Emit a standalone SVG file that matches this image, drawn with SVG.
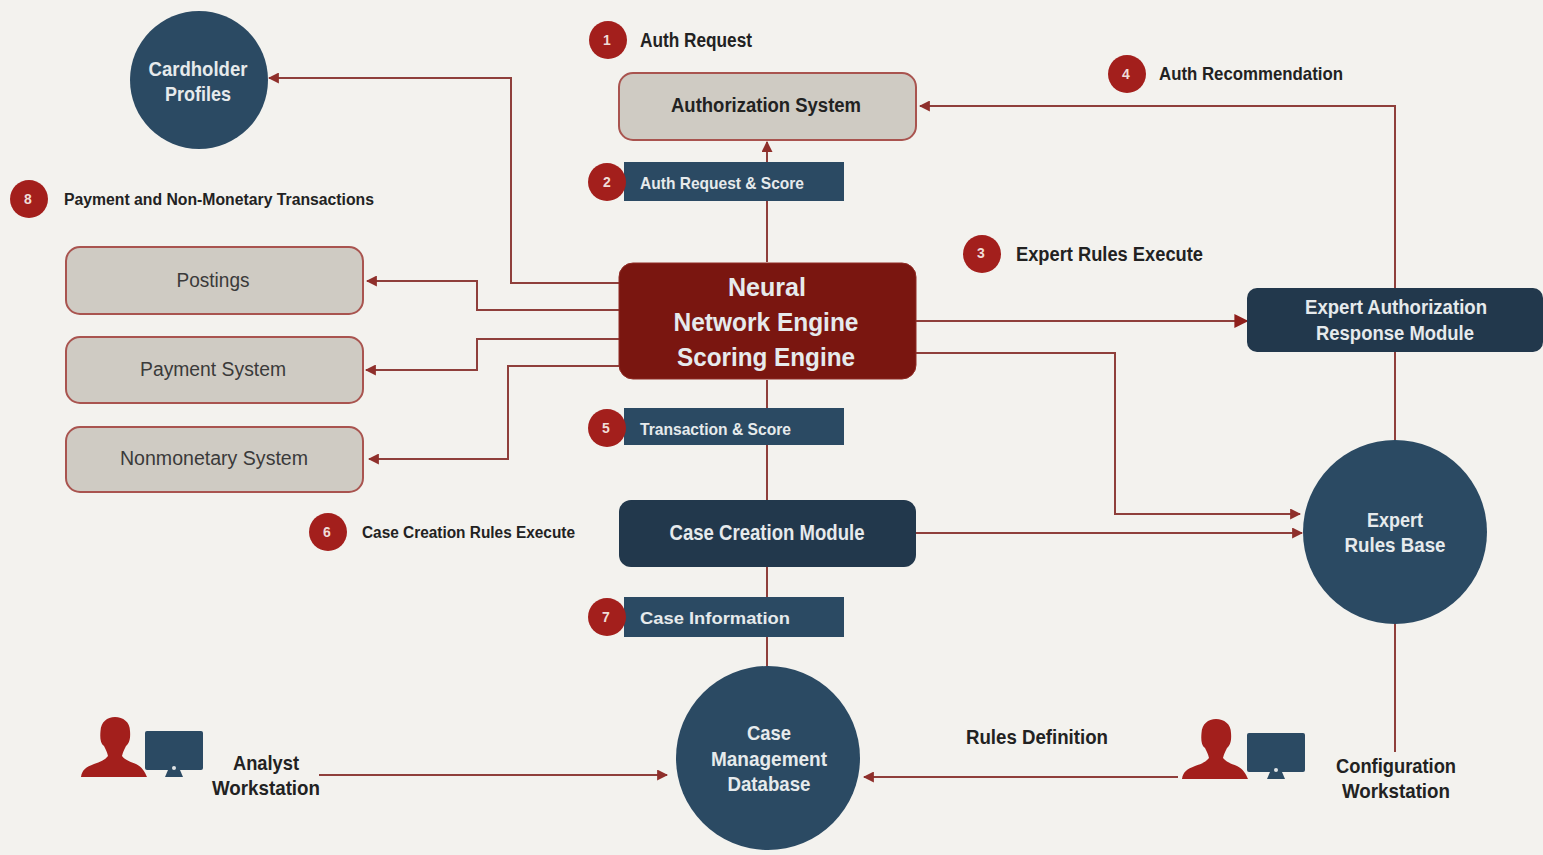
<svg xmlns="http://www.w3.org/2000/svg" width="1543" height="855" viewBox="0 0 1543 855">
<style>
text{font-family:"Liberation Sans",Arial,sans-serif;text-anchor:middle;font-weight:700}
.d{fill:#222}.w{fill:#e6eaec}.s{text-anchor:start}
.n{font-weight:400;fill:#3a3a3a;font-size:20px}
.box{fill:#cfcbc3;stroke:#a9544f;stroke-width:2}
.navy{fill:#2b4a63}.dark{fill:#22384c}.red{fill:#a31f1c}
.c{fill:none;stroke:#8f3f3b;stroke-width:2}
.num{fill:#f0dcd8;font-size:14px}
</style>
<defs>
<marker id="a" viewBox="0 0 10 10" refX="9" refY="5" markerWidth="5.5" markerHeight="5.5" orient="auto-start-reverse"><path d="M0 0L10 5L0 10Z" fill="#8f2f2b"/></marker>
<marker id="b" viewBox="0 0 10 10" refX="9" refY="5" markerWidth="7" markerHeight="7" orient="auto"><path d="M0 0L10 5L0 10Z" fill="#8f1f1b"/></marker>
<g id="person"><path d="M0 58C1 51 5 48 13 45C19 43 24 41 27 37C26 33 25 31 23 27C19 24 19 18 19.500 12C20 3 26 -2 34 -2C42 -2 49 3 49 12C49.500 18 49 24 45 27C43 31 42 33 41 37C44 41 50 43 55 45C61 48 64 53 66 58Z" class="red"/></g>
<g id="monitor"><rect x="0" y="0" width="58" height="39" rx="2" class="navy"/><path d="M23 39H35L38 46H20Z" class="navy"/><circle cx="29" cy="37" r="2" fill="#dfe3e5"/></g>
</defs>
<rect width="1543" height="855" fill="#f3f2ee"/>
<g id="connectors">
<path class="c" marker-end="url(#a)" d="M767 262V142"/>
<path class="c" marker-end="url(#a)" d="M619 283H511V78H269"/>
<path class="c" marker-end="url(#a)" d="M619 310H477V281H367"/>
<path class="c" marker-end="url(#a)" d="M619 339H477V370H366"/>
<path class="c" marker-end="url(#a)" d="M619 366H508V459H369"/>
<path class="c" marker-end="url(#b)" d="M916 321H1247"/>
<path class="c" marker-end="url(#a)" d="M916 353H1115V514H1300"/>
<path class="c" marker-end="url(#a)" d="M916 533H1302"/>
<path class="c" d="M767 380V667"/>
<path class="c" marker-end="url(#a)" d="M1395 288V106H920"/>
<path class="c" d="M1395 352V441"/>
<path class="c" d="M1395 624V752"/>
<path class="c" marker-end="url(#a)" d="M319 775H667"/>
<path class="c" marker-end="url(#a)" d="M1178 777H864"/>
</g>
<g id="cardholder"><circle cx="199" cy="80" r="69" class="navy"/><text class="w" font-size="21" x="198" y="75.500" textLength="99" lengthAdjust="spacingAndGlyphs">Cardholder</text><text class="w" font-size="21" x="198" y="100.500" textLength="66" lengthAdjust="spacingAndGlyphs">Profiles</text></g>
<g id="step1"><circle cx="608" cy="40" r="19" class="red"/><text class="num" x="607" y="45">1</text><text class="d s" font-size="20" x="640" y="46.500" textLength="112" lengthAdjust="spacingAndGlyphs">Auth Request</text></g>
<g id="authorization"><rect x="619" y="73" width="297" height="67" rx="14" class="box"/><text class="d" font-size="20" x="766" y="112" textLength="190" lengthAdjust="spacingAndGlyphs">Authorization System</text></g>
<g id="step4"><circle cx="1127" cy="74" r="19" class="red"/><text class="num" x="1126" y="79">4</text><text class="d s" font-size="19" x="1159" y="80" textLength="184" lengthAdjust="spacingAndGlyphs">Auth Recommendation</text></g>
<g id="step2"><rect x="624" y="162" width="220" height="39" class="navy"/><circle cx="607" cy="182" r="19" class="red"/><text class="num" x="607" y="187">2</text><text class="w s" font-size="17" x="640" y="188.500" textLength="164" lengthAdjust="spacingAndGlyphs">Auth Request &amp; Score</text></g>
<g id="step8"><circle cx="29" cy="199" r="19" class="red"/><text class="num" x="28" y="204">8</text><text class="d s" font-size="16" x="64" y="205" textLength="310" lengthAdjust="spacingAndGlyphs">Payment and Non-Monetary Transactions</text></g>
<g id="step3"><circle cx="982" cy="254" r="19" class="red"/><text class="num" x="981" y="258">3</text><text class="d s" font-size="20" x="1016" y="261" textLength="187" lengthAdjust="spacingAndGlyphs">Expert Rules Execute</text></g>
<g id="postings"><rect x="66" y="247" width="297" height="67" rx="14" class="box"/><text class="n" x="213" y="287" textLength="73" lengthAdjust="spacingAndGlyphs">Postings</text></g>
<g id="payment"><rect x="66" y="337" width="297" height="66" rx="14" class="box"/><text class="n" x="213" y="376" textLength="146" lengthAdjust="spacingAndGlyphs">Payment System</text></g>
<g id="nonmonetary"><rect x="66" y="427" width="297" height="65" rx="14" class="box"/><text class="n" x="214" y="465" textLength="188" lengthAdjust="spacingAndGlyphs">Nonmonetary System</text></g>
<g id="neural"><rect x="619" y="263" width="297" height="116" rx="14" fill="#7a1610" stroke="#8f2a24"/><text class="w" x="767" y="296" font-size="26" textLength="78" lengthAdjust="spacingAndGlyphs">Neural</text><text class="w" x="766" y="330.500" font-size="26" textLength="185" lengthAdjust="spacingAndGlyphs">Network Engine</text><text class="w" x="766" y="365.500" font-size="26" textLength="178" lengthAdjust="spacingAndGlyphs">Scoring Engine</text></g>
<g id="response"><rect x="1247" y="288" width="296" height="64" rx="10" class="dark"/><text class="w" font-size="20" x="1396" y="314" textLength="182" lengthAdjust="spacingAndGlyphs">Expert Authorization</text><text class="w" font-size="20" x="1395" y="340" textLength="158" lengthAdjust="spacingAndGlyphs">Response Module</text></g>
<g id="step5"><rect x="624" y="408" width="220" height="37" class="navy"/><circle cx="607" cy="428" r="19" class="red"/><text class="num" x="606" y="433">5</text><text class="w s" font-size="17" x="640" y="434.500" textLength="151" lengthAdjust="spacingAndGlyphs">Transaction &amp; Score</text></g>
<g id="rulesbase"><circle cx="1395" cy="532" r="92" class="navy"/><text class="w" font-size="21" x="1395" y="527" textLength="56" lengthAdjust="spacingAndGlyphs">Expert</text><text class="w" font-size="21" x="1395" y="552" textLength="101" lengthAdjust="spacingAndGlyphs">Rules Base</text></g>
<g id="step6"><circle cx="328" cy="532" r="19" class="red"/><text class="num" x="327" y="537">6</text><text class="d s" font-size="16" x="362" y="538" textLength="213" lengthAdjust="spacingAndGlyphs">Case Creation Rules Execute</text></g>
<g id="casecreation"><rect x="619" y="500" width="297" height="67" rx="12" class="dark"/><text class="w" font-size="22" x="767" y="540" textLength="195" lengthAdjust="spacingAndGlyphs">Case Creation Module</text></g>
<g id="step7"><rect x="624" y="597" width="220" height="40" class="navy"/><circle cx="607" cy="617" r="19" class="red"/><text class="num" x="606" y="622">7</text><text class="w s" font-size="17" x="640" y="624" textLength="150" lengthAdjust="spacingAndGlyphs">Case Information</text></g>
<g id="casedb"><circle cx="768" cy="758" r="92" class="navy"/><text class="w" font-size="21" x="769" y="740" textLength="44" lengthAdjust="spacingAndGlyphs">Case</text><text class="w" font-size="21" x="769" y="765.500" textLength="116" lengthAdjust="spacingAndGlyphs">Management</text><text class="w" font-size="21" x="769" y="791" textLength="83" lengthAdjust="spacingAndGlyphs">Database</text></g>
<g id="analyst"><use href="#person" x="81" y="719"/><use href="#monitor" x="145" y="731"/><text class="d" font-size="21" x="266" y="770" textLength="66" lengthAdjust="spacingAndGlyphs">Analyst</text><text class="d" font-size="21" x="266" y="795" textLength="108" lengthAdjust="spacingAndGlyphs">Workstation</text></g>
<g id="rulesdef"><text class="d" font-size="21" x="1037" y="744" textLength="142" lengthAdjust="spacingAndGlyphs">Rules Definition</text></g>
<g id="config"><use href="#person" x="1182" y="721"/><use href="#monitor" x="1247" y="733"/><text class="d" font-size="21" x="1396" y="773" textLength="120" lengthAdjust="spacingAndGlyphs">Configuration</text><text class="d" font-size="21" x="1396" y="798" textLength="108" lengthAdjust="spacingAndGlyphs">Workstation</text></g>
</svg>
